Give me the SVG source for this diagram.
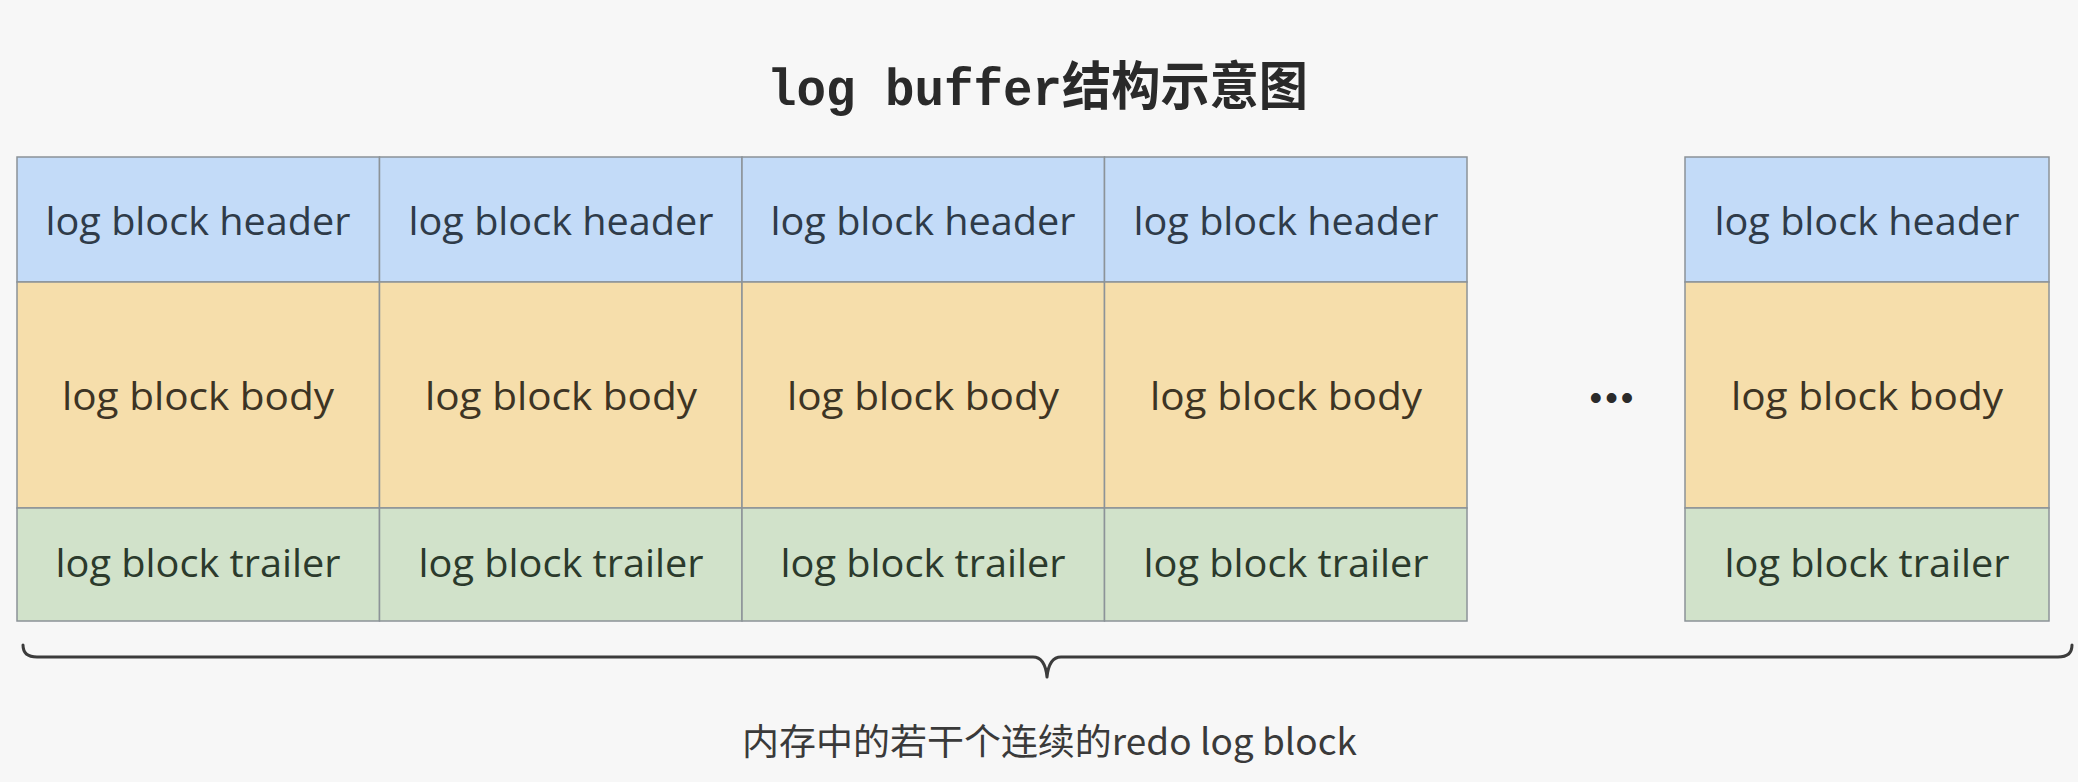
<svg xmlns="http://www.w3.org/2000/svg" width="2078" height="782" viewBox="0 0 2078 782">
<style>
.bg{fill:#f7f7f7}
.hdr{fill:#c3dbf8;stroke:#8c9398;stroke-width:1.5}
.bdy{fill:#f6deab;stroke:#8c9398;stroke-width:1.5}
.trl{fill:#d1e2ca;stroke:#8c9398;stroke-width:1.5}
.t{font-family:"Open Sans","Noto Sans",sans-serif;font-size:39px;text-anchor:middle}
.th{fill:#2f3b49}
.tb{fill:#3d3424}
.tt{fill:#2b3a2c}
.title{font-family:"Liberation Mono","Noto Sans CJK SC",monospace;font-weight:bold;font-size:52px;fill:#2a2a2a}
.cap{font-family:"Noto Sans CJK SC","Open Sans",sans-serif;font-size:36px;fill:#3a3a3a}
.brace{fill:none;stroke:#3c3c3c;stroke-width:3;stroke-linecap:round;stroke-linejoin:round}
</style>
<rect class="bg" x="0" y="0" width="2078" height="782"/>
<text id="title" class="title" x="767" y="105" textLength="541" lengthAdjust="spacingAndGlyphs">log buffer结构示意图</text>

<g id="block1">
<rect class="hdr" x="17" y="157" width="362.5" height="125"/>
<rect class="bdy" x="17" y="282" width="362.5" height="226"/>
<rect class="trl" x="17" y="508" width="362.5" height="113"/>
<text class="t th" x="198" y="235" textLength="305" lengthAdjust="spacingAndGlyphs">log block header</text>
<text class="t tb" x="198" y="410" textLength="272" lengthAdjust="spacingAndGlyphs">log block body</text>
<text class="t tt" x="198" y="577" textLength="285" lengthAdjust="spacingAndGlyphs">log block trailer</text>
</g>
<g id="block2">
<rect class="hdr" x="379.5" y="157" width="362.5" height="125"/>
<rect class="bdy" x="379.5" y="282" width="362.5" height="226"/>
<rect class="trl" x="379.5" y="508" width="362.5" height="113"/>
<text class="t th" x="561" y="235" textLength="305" lengthAdjust="spacingAndGlyphs">log block header</text>
<text class="t tb" x="561" y="410" textLength="272" lengthAdjust="spacingAndGlyphs">log block body</text>
<text class="t tt" x="561" y="577" textLength="285" lengthAdjust="spacingAndGlyphs">log block trailer</text>
</g>
<g id="block3">
<rect class="hdr" x="742" y="157" width="362.5" height="125"/>
<rect class="bdy" x="742" y="282" width="362.5" height="226"/>
<rect class="trl" x="742" y="508" width="362.5" height="113"/>
<text class="t th" x="923" y="235" textLength="305" lengthAdjust="spacingAndGlyphs">log block header</text>
<text class="t tb" x="923" y="410" textLength="272" lengthAdjust="spacingAndGlyphs">log block body</text>
<text class="t tt" x="923" y="577" textLength="285" lengthAdjust="spacingAndGlyphs">log block trailer</text>
</g>
<g id="block4">
<rect class="hdr" x="1104.5" y="157" width="362.5" height="125"/>
<rect class="bdy" x="1104.5" y="282" width="362.5" height="226"/>
<rect class="trl" x="1104.5" y="508" width="362.5" height="113"/>
<text class="t th" x="1286" y="235" textLength="305" lengthAdjust="spacingAndGlyphs">log block header</text>
<text class="t tb" x="1286" y="410" textLength="272" lengthAdjust="spacingAndGlyphs">log block body</text>
<text class="t tt" x="1286" y="577" textLength="285" lengthAdjust="spacingAndGlyphs">log block trailer</text>
</g>
<g id="ellipsis">
<text x="1613" y="410" font-family="Liberation Sans, sans-serif" font-size="36" letter-spacing="3" text-anchor="middle" fill="#2a2a2a">•••</text>
</g>
<g id="blockN">
<rect class="hdr" x="1685" y="157" width="364" height="125"/>
<rect class="bdy" x="1685" y="282" width="364" height="226"/>
<rect class="trl" x="1685" y="508" width="364" height="113"/>
<text class="t th" x="1867" y="235" textLength="305" lengthAdjust="spacingAndGlyphs">log block header</text>
<text class="t tb" x="1867" y="410" textLength="272" lengthAdjust="spacingAndGlyphs">log block body</text>
<text class="t tt" x="1867" y="577" textLength="285" lengthAdjust="spacingAndGlyphs">log block trailer</text>
</g>
<g id="connectors">
<path class="brace" d="M23,645 Q23,657 37,657 L1033,657 Q1045,657 1047,677 Q1049,657 1061,657 L2058,657 Q2072,657 2072,645"/>
</g>
<g id="caption">
<text class="cap" x="742" y="755" textLength="615" lengthAdjust="spacingAndGlyphs">内存中的若干个连续的redo log block</text>
</g>
</svg>
